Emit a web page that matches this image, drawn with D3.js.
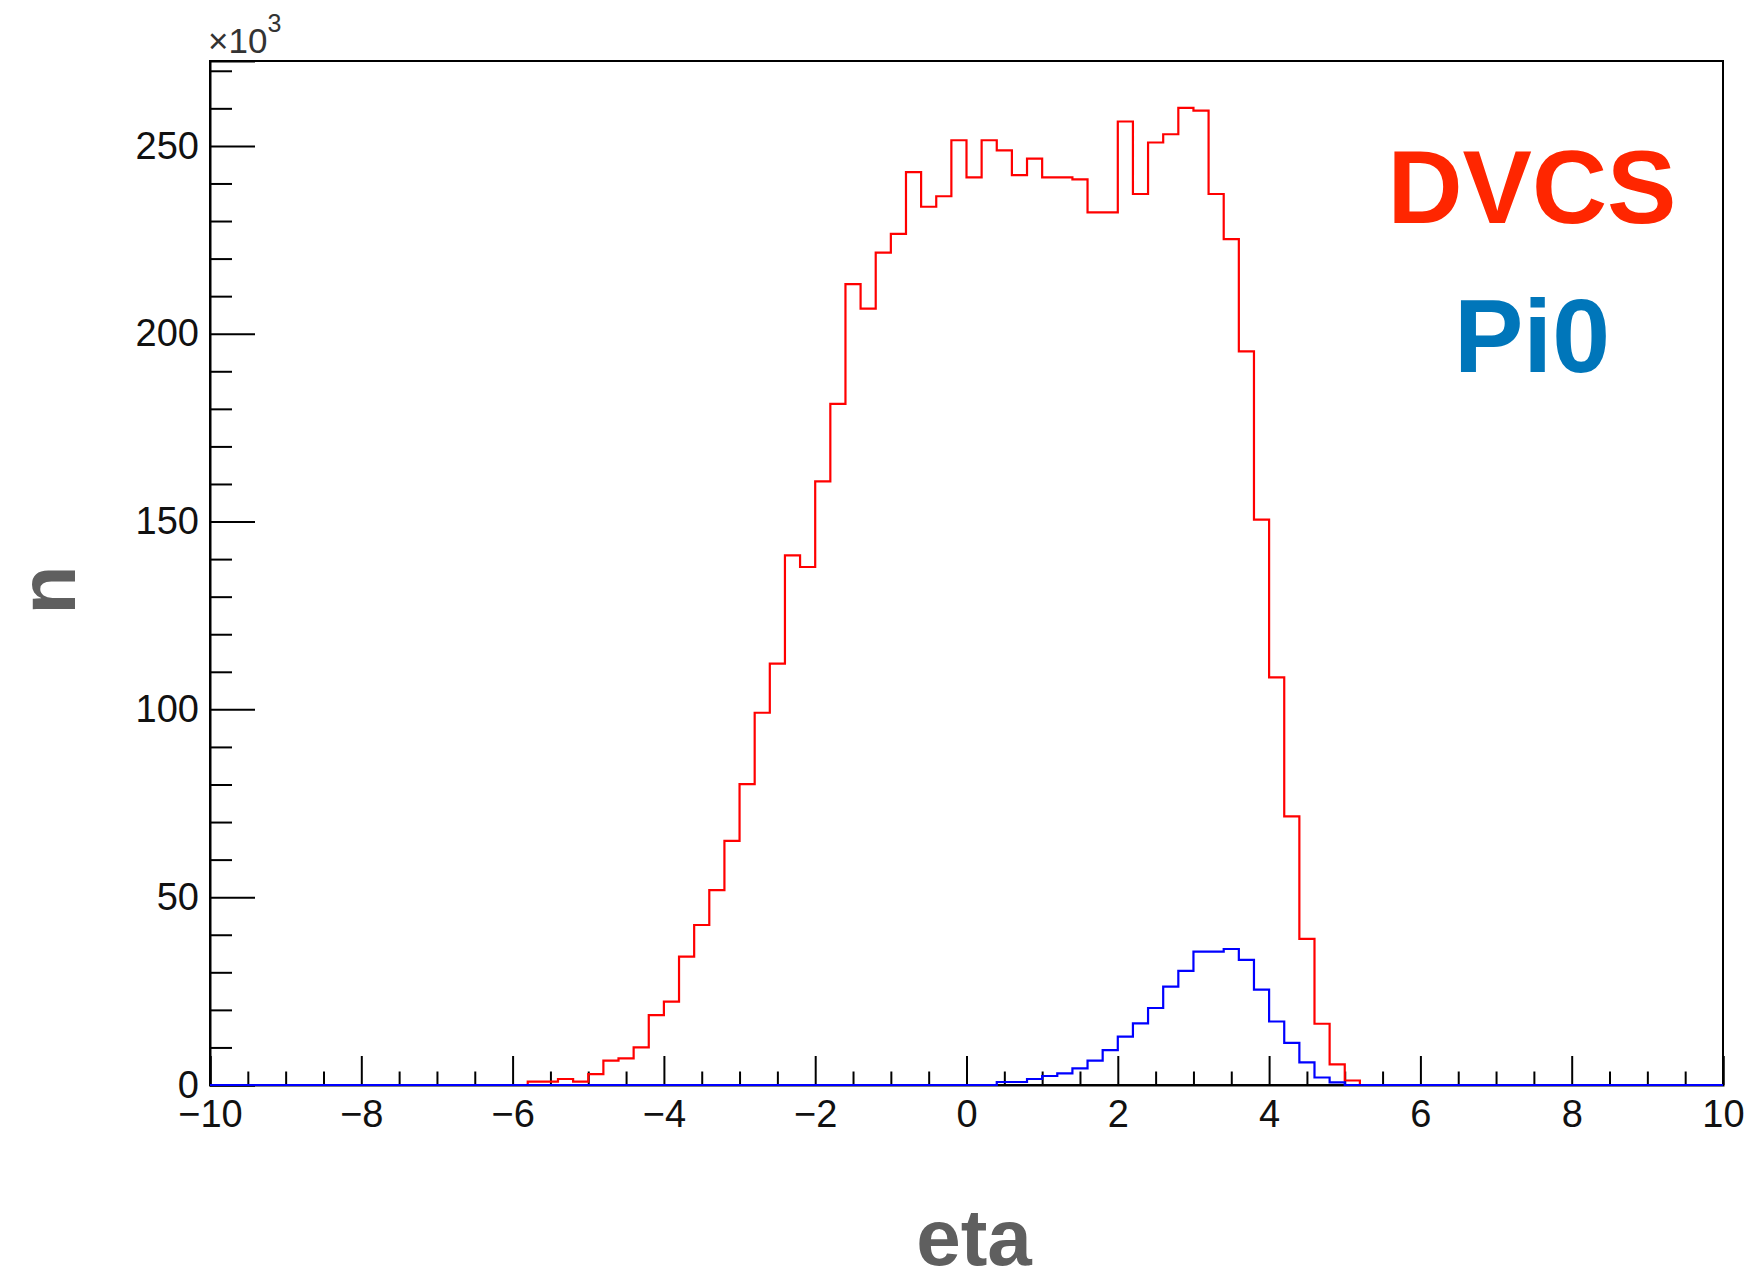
<!DOCTYPE html>
<html>
<head>
<meta charset="utf-8">
<script src="https://cdn.jsdelivr.net/npm/d3@7"></script>
<style>
  body { margin: 0; background: #fff; }
  svg { display: block; font-family: "Liberation Sans", Arial, sans-serif; }
</style>
</head>
<body>
<script>
// histogram: 100 bins of 0.2 from -10 to 10, values in thousands
const binWidth = 0.2;
const xRange = [-10, 10];

// DVCS, first non-empty bin starts at -5.8
const dvcsStart = -5.8;
const dvcsCounts = [
  0.9, 0.9, 1.6, 0.9, 2.9, 6.5, 7.1, 10.0, 18.6, 22.2,
  34.2, 42.6, 51.9, 65.0, 80.1, 99.1, 112.2, 141.0, 137.9, 160.7,
  181.3, 213.2, 206.7, 221.6, 226.6, 243.0, 233.8, 236.6, 251.5, 241.6,
  251.5, 248.8, 242.2, 246.6, 241.6, 241.6, 241.1, 232.3, 232.3, 256.5,
  237.2, 250.9, 253.1, 260.1, 259.4, 237.2, 225.2, 195.3, 150.5, 108.5,
  71.5, 38.9, 16.3, 5.5, 1.2
];

// Pi0, first non-empty bin starts at 0.4
const pi0Start = 0.4;
const pi0Counts = [
  0.8, 0.8, 1.6, 2.4, 3.1, 4.4, 6.5, 9.3, 12.9, 16.4,
  20.5, 26.2, 30.4, 35.5, 35.5, 36.2, 33.3, 25.4, 16.9, 11.2,
  6.0, 2.0, 0.7
];

const yMax = 272.6;
const yMajorTicks = [0, 50, 100, 150, 200, 250];
const xMajorTicks = [-10, -8, -6, -4, -2, 0, 2, 4, 6, 8, 10];

const width = 1751, height = 1277;
const margin = { left: 210, right: 28, top: 61, bottom: 192 };
const plotW = width - margin.left - margin.right;
const plotH = height - margin.top - margin.bottom;

const svg = d3.select("body").append("svg")
  .attr("width", width)
  .attr("height", height);

const g = svg.append("g")
  .attr("transform", `translate(${margin.left},${margin.top})`);

const x = d3.scaleLinear().domain(xRange).range([0, plotW]);
const y = d3.scaleLinear().domain([0, yMax]).range([plotH, 0]);

// frame
g.append("rect")
  .attr("width", plotW).attr("height", plotH)
  .attr("fill", "none").attr("stroke", "#000").attr("stroke-width", 2);

const minus = s => String(s).replace("-", "\u2212");

// y axis, ticks pointing into the frame
const yMinor = d3.range(0, yMax, 10).filter(v => v % 50 !== 0);
g.append("g")
  .call(d3.axisLeft(y).tickValues(yMinor).tickSize(-22).tickFormat(""))
  .call(a => a.select(".domain").remove())
  .selectAll("line").attr("stroke-width", 2);

g.append("g")
  .call(d3.axisLeft(y).tickValues(yMajorTicks).tickSize(-45).tickPadding(11))
  .call(a => a.select(".domain").attr("stroke-width", 2))
  .call(a => a.selectAll("line").attr("stroke-width", 2))
  .call(a => a.selectAll("text")
    .attr("font-size", 38).attr("fill", "#111")
    .attr("font-family", "'Liberation Sans', Arial, sans-serif"));

// x axis
const xMinor = d3.range(-10, 10.01, 0.5).filter(v => Math.abs(v % 2) > 0.01);
g.append("g")
  .attr("transform", `translate(0,${plotH})`)
  .call(d3.axisBottom(x).tickValues(xMinor).tickSize(-13.5).tickFormat(""))
  .call(a => a.select(".domain").remove())
  .selectAll("line").attr("stroke-width", 2);

g.append("g")
  .attr("transform", `translate(0,${plotH})`)
  .call(d3.axisBottom(x).tickValues(xMajorTicks).tickSize(-29).tickPadding(15).tickFormat(minus))
  .call(a => a.select(".domain").attr("stroke-width", 2))
  .call(a => a.selectAll("line").attr("stroke-width", 2))
  .call(a => a.selectAll("text")
    .attr("font-size", 38).attr("fill", "#111")
    .attr("font-family", "'Liberation Sans', Arial, sans-serif"));

// full set of bins over the axis range
function allBins(start, counts) {
  const n = Math.round((xRange[1] - xRange[0]) / binWidth);
  const first = Math.round((start - xRange[0]) / binWidth);
  const pts = [];
  for (let i = 0; i < n; i++) {
    const v = (i >= first && i < first + counts.length) ? counts[i - first] : 0;
    pts.push([xRange[0] + i * binWidth, v]);
  }
  pts.push([xRange[1], 0]);
  return pts;
}

const step = d3.line()
  .x(d => x(d[0]))
  .y(d => y(d[1]))
  .curve(d3.curveStepAfter);

g.append("path")
  .datum(allBins(dvcsStart, dvcsCounts))
  .attr("d", step)
  .attr("fill", "none").attr("stroke", "#ff0000").attr("stroke-width", 2.2);

g.append("path")
  .datum(allBins(pi0Start, pi0Counts))
  .attr("d", step)
  .attr("fill", "none").attr("stroke", "#0000ff").attr("stroke-width", 2.2);

// exponent label
const expo = svg.append("text")
  .attr("x", 208).attr("y", 53)
  .attr("font-size", 35).attr("fill", "#333");
expo.append("tspan").text("\u00d710");
expo.append("tspan").attr("font-size", 25).attr("dy", -21).text("3");

// axis titles
svg.append("text")
  .attr("x", 974).attr("y", 1265)
  .attr("text-anchor", "middle")
  .attr("font-size", 80).attr("font-weight", "bold").attr("fill", "#5f5f5f")
  .text("eta");

svg.append("text")
  .attr("transform", "translate(75,590) rotate(-90)")
  .attr("text-anchor", "middle")
  .attr("font-size", 80).attr("font-weight", "bold").attr("fill", "#5f5f5f")
  .text("n");

// labels
svg.append("text")
  .attr("x", 1532).attr("y", 223)
  .attr("text-anchor", "middle")
  .attr("font-size", 104).attr("font-weight", "bold").attr("fill", "#ff2600")
  .text("DVCS");

svg.append("text")
  .attr("x", 1532).attr("y", 372)
  .attr("text-anchor", "middle")
  .attr("font-size", 104).attr("font-weight", "bold").attr("fill", "#0076ba")
  .text("Pi0");
</script>
</body>
</html>
